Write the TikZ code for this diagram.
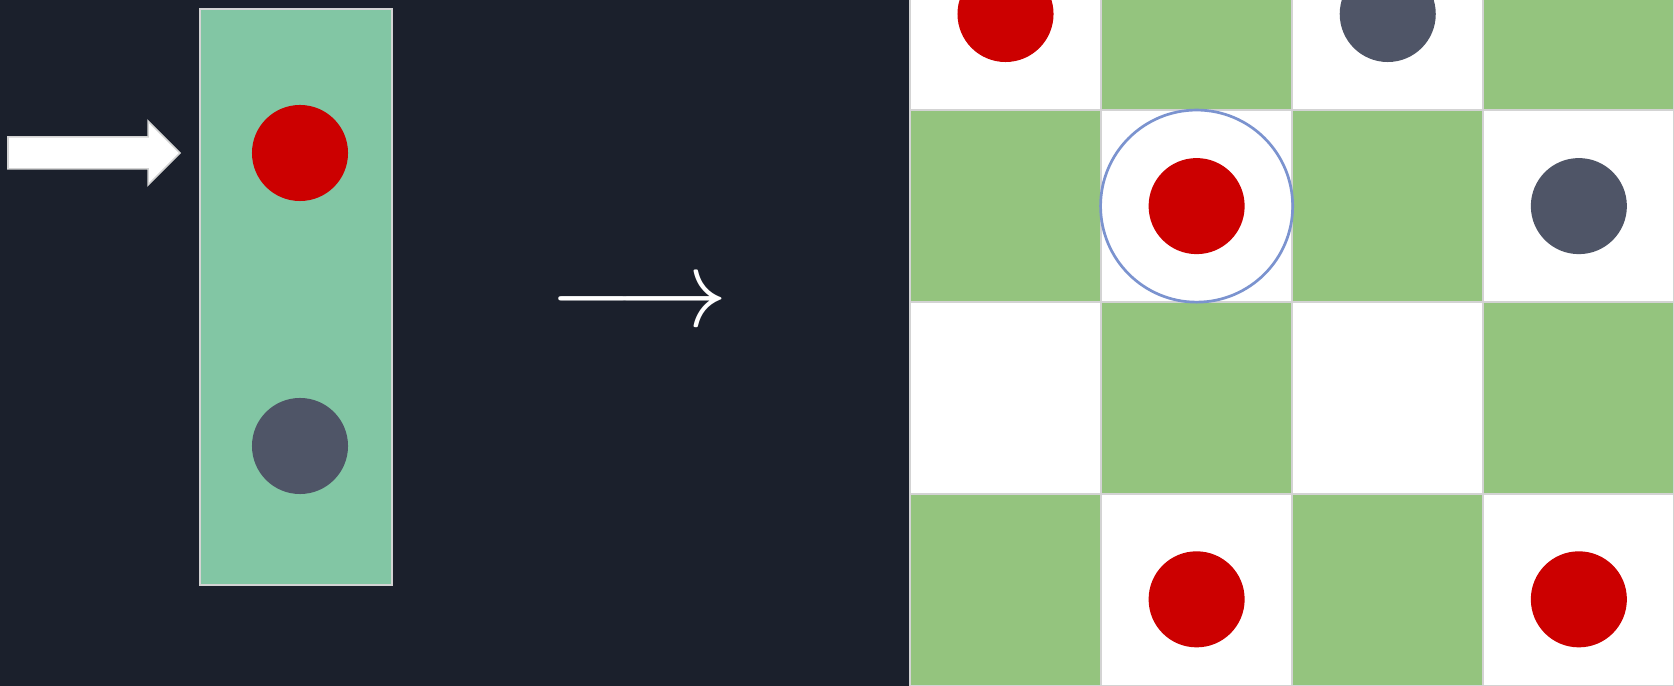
\documentclass[tikz,border=0pt]{standalone}
\usepackage{graphicx}
\usepackage{tikz}
\usetikzlibrary{positioning}
\definecolor{bgdark}{HTML}{1B202C}
\definecolor{traygreen}{HTML}{82C6A4}
\definecolor{cellgreen}{HTML}{94C47E}
\definecolor{stonered}{HTML}{CC0000}
\definecolor{stonegray}{HTML}{4F5567}
\definecolor{ringblue}{HTML}{7B93CF}
\definecolor{edgegray}{HTML}{D3D3D3}

\begin{document}
\begin{tikzpicture}[
        x=0.01cm, y=-0.01cm,
        node distance=0cm and 0cm,
        cell/.style={draw=edgegray, line width=0.02cm, minimum width=1.91cm, minimum height=1.92cm, inner sep=0pt, outer sep=0pt},
        light/.style={cell, fill=white},
        dark/.style={cell, fill=cellgreen},
        stone/.style={circle, minimum size=0.96cm, inner sep=0pt},
        redstone/.style={stone, fill=stonered},
        graystone/.style={stone, fill=stonegray},
        ring/.style={circle, draw=ringblue, line width=0.027cm, minimum size=1.92cm, inner sep=0pt}
    ]
    \clip (0,0) rectangle (1674,686);
    \fill[bgdark] (0,0) rectangle (1674,686);

    % the tray on the left
    \node[draw=edgegray, fill=traygreen, line width=0.02cm, minimum width=1.92cm, minimum height=5.76cm, inner sep=0pt] (tray) at (296,297) {};
    \node[redstone] (trayred) at (300,153) {};
    \node[graystone] (traygray) at (300,446) {};
    \draw[fill=white, draw=edgegray, line width=0.015cm] (8,137) -- (148,137) -- (148,121) -- (180,153) -- (148,185) -- (148,169) -- (8,169) -- cycle;

    \node[text=white, inner sep=0pt, anchor=base west] (maps) at (549,326.5) {\scalebox{3.15}{$\longrightarrow$}};

    % the board
    \node[light] (c11) at (1005.5,14) {};
    \node[dark, right=of c11] (c12) {};
    \node[light, right=of c12] (c13) {};
    \node[dark, right=of c13] (c14) {};
    \node[dark, below=of c11] (c21) {};
    \node[light, right=of c21] (c22) {};
    \node[dark, right=of c22] (c23) {};
    \node[light, right=of c23] (c24) {};
    \node[light, below=of c21] (c31) {};
    \node[dark, right=of c31] (c32) {};
    \node[light, right=of c32] (c33) {};
    \node[dark, right=of c33] (c34) {};
    \node[dark, below=of c31] (c41) {};
    \node[light, right=of c41] (c42) {};
    \node[dark, right=of c42] (c43) {};
    \node[light, right=of c43] (c44) {};

    \node[redstone] (s11) at (c11.center) {};
    \node[graystone] (s13) at (c13.center) {};
    \node[redstone] (s22) at (c22.center) {};
    \node[ring] (pick) at (c22.center) {};
    \node[graystone] (s24) at (c24.center) {};
    \node[redstone] (s42) at ([yshift=-0.09cm]c42.center) {};
    \node[redstone] (s44) at ([yshift=-0.09cm]c44.center) {};
\end{tikzpicture}
\end{document}
